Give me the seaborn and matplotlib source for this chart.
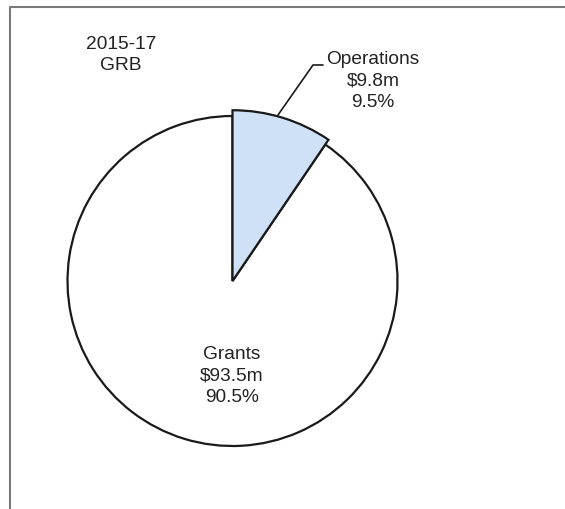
import matplotlib
matplotlib.use("Agg")
import matplotlib.pyplot as plt
import seaborn as sns

# Budget split, 2015-17 GRB
categories = ["Operations", "Grants"]
amounts = [9.8, 93.5]          # $ millions
shares = [9.5, 90.5]           # percent of total
title_lines = ["2015-17", "GRB"]

sns.set_theme(style="white")
plt.rcParams["font.family"] = ["Liberation Sans", "DejaVu Sans"]

W, H = 565, 509
fig = plt.figure(figsize=(W / 100, H / 100), dpi=100)
fig.patch.set_facecolor("white")
ax = fig.add_axes([0, 0, 1, 1])

cx, cy, r = 232.5, H - 281, 165
wedges, _ = ax.pie(
    shares,
    startangle=90,
    counterclock=False,
    colors=["#cfe1f7", "white"],
    center=(cx, cy),
    radius=r,
    wedgeprops=dict(edgecolor="#1a1a1a", linewidth=1.6),
)
# The Operations slice stands slightly proud of the circle
wedges[0].set_radius(r * 1.035)
wedges[0].set_zorder(3)

ax.set_xlim(0, W)
ax.set_ylim(0, H)
ax.set_aspect("equal")
ax.axis("off")

fs = 13.8
ls = 1.32
ax.text(121, H - 55, "\n".join(title_lines), ha="center", va="center",
        fontsize=fs, color="#222222", linespacing=ls)

labels = [f"{c}\n${a}m\n{s}%" for c, a, s in zip(categories, amounts, shares)]
ax.text(373, H - 81, labels[0], ha="center", va="center",
        fontsize=fs, color="#222222", linespacing=ls, zorder=5)
ax.text(232, H - 376, labels[1], ha="center", va="center",
        fontsize=fs, color="#222222", linespacing=ls, zorder=5)

# Leader line to the Operations label
ax.plot([278, 313, 323], [H - 115, H - 65, H - 65], color="#1a1a1a",
        linewidth=1.2, zorder=4)

# Frame of the panel (top and left edges fall within the page)
ax.plot([10, 10, W + 5], [-5, H - 7, H - 7], color="#7a7a7a",
        linewidth=1.5, clip_on=False, zorder=1)

fig.savefig("out.png", dpi=100, facecolor="white")
